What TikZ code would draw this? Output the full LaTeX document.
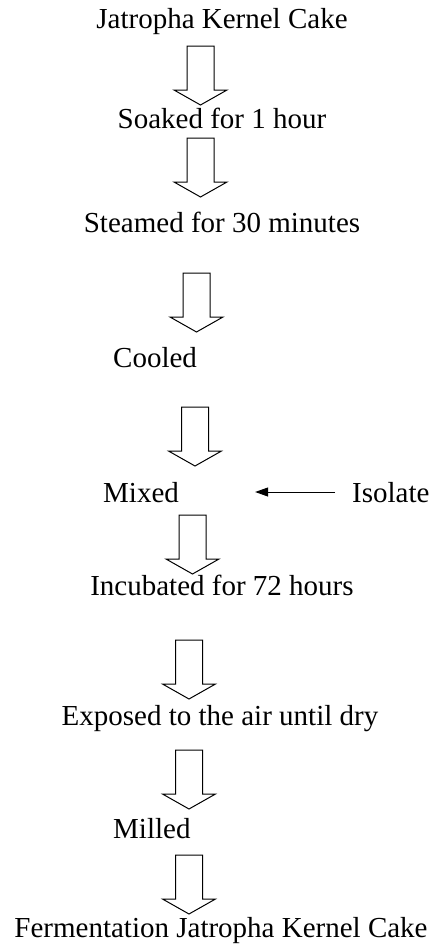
\documentclass[tikz,border=0pt]{standalone}
\usepackage{fontspec}
\setmainfont{Liberation Serif}
\usetikzlibrary{arrows.meta}

\tikzset{
  stage/.style={inner sep=0pt, anchor=base, text height=20pt, text depth=0pt,
    font=\fontsize{29}{34}\selectfont},
  blockline/.style={draw, line width=1pt, line join=miter},
  downarrow/.pic={
    \draw[blockline] (-13.5,0) -- (-13.5,-44) -- (-26.5,-44) -- (0,-59)
      -- (26.5,-44) -- (13.5,-44) -- (13.5,0) -- cycle;
  },
}

\begin{document}
\begin{tikzpicture}[x=1pt, y=1pt]
\useasboundingbox (0,0) rectangle (432,-945);

% process steps
\node[stage] (cake) at (222,-28) {Jatropha Kernel Cake};
\node[stage] (soak) at (222,-128) {Soaked for 1 hour};
\node[stage] (steam) at (222,-232) {Steamed for 30 minutes};
\node[stage, anchor=base west] (cool) at (113,-367) {Cooled};
\node[stage, anchor=base west] (mix) at (103,-502) {Mixed};
\node[stage, anchor=base west] (iso) at (352,-502) {Isolate};
\node[stage] (incub) at (222,-595) {Incubated for 72 hours};
\node[stage] (dry) at (220,-725) {Exposed to the air until dry};
\node[stage, anchor=base west] (mill) at (113,-838) {Milled};
\node[stage] (fjkc) at (221,-937) {Fermentation Jatropha Kernel Cake};

% block arrows between the steps
\pic at (200.5,-46) {downarrow};
\pic at (200.5,-138) {downarrow};
\pic at (196.5,-273) {downarrow};
\pic at (195,-407) {downarrow};
\pic at (192.5,-515) {downarrow};
\pic at (189,-640) {downarrow};
\pic at (189,-750) {downarrow};
\pic at (189,-855) {downarrow};

% isolate added to the mix
\draw[line width=1pt, -{Triangle[length=13pt, width=9pt]},
  shorten <=17pt, shorten >=76pt] (iso.west) -- (mix.east);

\end{tikzpicture}
\end{document}
